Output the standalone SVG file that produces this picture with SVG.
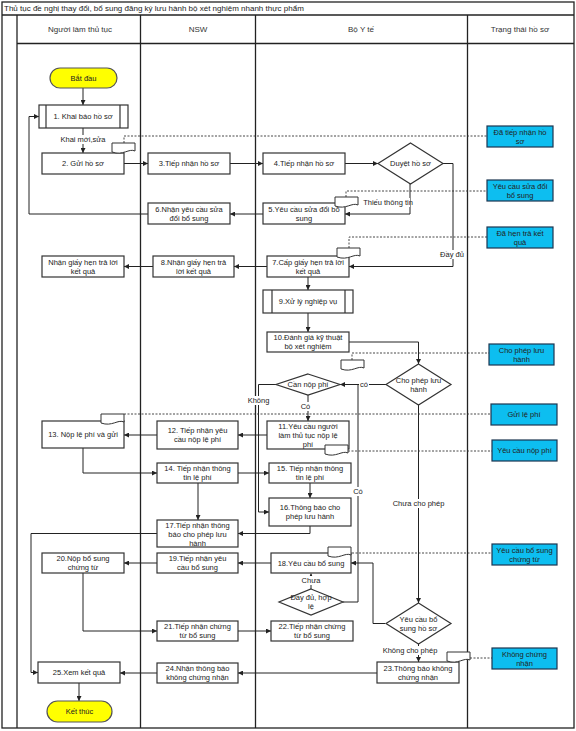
<svg xmlns="http://www.w3.org/2000/svg" width="576" height="731" viewBox="0 0 576 731">
<style>
text{font-family:"Liberation Sans",Arial,sans-serif;font-size:7.5px;fill:#222;text-anchor:middle}
.title{text-anchor:start;font-size:8px}
.hdr{font-size:8px;fill:#333}
.box{fill:#fff;stroke:#333;stroke-width:1.2}
.st{fill:#0DBEF0;stroke:#1b3550;stroke-width:1.2}
.term{fill:#FFFF00;stroke:#555;stroke-width:1.2}
.lane{fill:none;stroke:#222;stroke-width:1.3}
.c{fill:none;stroke:#222;stroke-width:1;marker-end:url(#ah)}
.cn{fill:none;stroke:#222;stroke-width:1}
.d{fill:none;stroke:#333;stroke-width:0.9;stroke-dasharray:2 1.5}
.bg{fill:#fff}
.doc{fill:#fff;stroke:#333;stroke-width:1}
</style>
<defs>
<marker id="ah" viewBox="0 0 6 6" refX="6" refY="3" markerWidth="5" markerHeight="5" orient="auto" markerUnits="userSpaceOnUse"><path d="M0,0 L6,3 L0,6 z" fill="#222"/></marker>
<path id="docshape" d="M0,0 H23 V8 C17,5 11,13 0,9 Z"/>
</defs>
<rect width="576" height="731" fill="#fff"/>
<g id="frame">
<rect x="2" y="2" width="572" height="726" class="lane"/>
<line x1="2" y1="15" x2="574" y2="15" class="lane"/>
<line x1="17" y1="15" x2="17" y2="728" class="lane"/>
<line x1="17" y1="43.5" x2="574" y2="43.5" class="lane"/>
<line x1="140.5" y1="15" x2="140.5" y2="728" class="lane"/>
<line x1="255.5" y1="15" x2="255.5" y2="728" class="lane"/>
<line x1="467.5" y1="15" x2="467.5" y2="728" class="lane"/>
<text x="4" y="11" class="title">Thủ tục đề nghị thay đổi, bổ sung đăng ký lưu hành bộ xét nghiệm nhanh thực phẩm</text>
<text x="80" y="32" class="hdr">Người làm thủ tục</text>
<text x="198" y="32" class="hdr">NSW</text>
<text x="361" y="32" class="hdr">Bộ Y tế</text>
<text x="520" y="32" class="hdr">Trạng thái hồ sơ</text>
</g>
<g id="connectors">
<path class="c" d="M83,88 V105"/>
<path class="c" d="M83,128 V153"/>
<path class="c" d="M124,163.5 H148"/>
<path class="c" d="M230,163.5 H263"/>
<path class="c" d="M345,163.5 H378"/>
<path class="c" d="M443,163.5 H453 V266.5 H349"/>
<path class="c" d="M410,184 V214 H345"/>
<path class="c" d="M263,214 H230"/>
<path class="c" d="M148,214 H29 V116.5 H39"/>
<path class="c" d="M267,266.5 H234"/>
<path class="c" d="M153,266.5 H124"/>
<path class="c" d="M308,277 V290"/>
<path class="c" d="M308,313 V332"/>
<path class="c" d="M349,342 H418.5 V364"/>
<path class="c" d="M386,384.5 H340"/>
<path class="cn" d="M343,602 H358 V384.5"/>
<path class="c" d="M308,395 V421"/>
<path class="c" d="M276,384.5 H258.5 V512 H269"/>
<path class="c" d="M267,435 H238"/>
<path class="c" d="M157,435 H124"/>
<path class="c" d="M83,448 V473 H157"/>
<path class="c" d="M238,473 H269"/>
<path class="c" d="M310,483 V498"/>
<path class="c" d="M198,483 V520"/>
<path class="c" d="M310,526 V533.5 H238"/>
<path class="c" d="M157,533.5 H31 V672.5 H38"/>
<path class="c" d="M418.5,405 V603"/>
<path class="c" d="M385,623.5 H373 V563 H351"/>
<path class="c" d="M311,589 V573.5"/>
<path class="c" d="M271,563 H238"/>
<path class="c" d="M157,563 H124"/>
<path class="c" d="M83,573 V631 H157"/>
<path class="c" d="M238,631 H271"/>
<path class="c" d="M418.5,644 V662"/>
<path class="c" d="M377,673 H238"/>
<path class="c" d="M157,673 H120"/>
<path class="c" d="M79,683 V701"/>
<path class="d" d="M124,143 V136 H487"/>
<path class="d" d="M346,197 V191 H487"/>
<path class="d" d="M349,248 V237 H487"/>
<path class="d" d="M352,360 V353 H489"/>
<path class="d" d="M124,414 H491"/>
<path class="d" d="M348,451 H492"/>
<path class="d" d="M352,553 H492"/>
<path class="d" d="M470,658 H492"/>
<rect class="bg" x="58" y="135" width="50" height="9"/>
<text x="83" y="142">Khai mới,sửa</text>
<rect class="bg" x="365" y="198" width="45" height="9"/>
<text x="388" y="205">Thiếu thông tin</text>
<rect class="bg" x="440" y="250" width="25" height="9"/>
<text x="452" y="257">Đầy đủ</text>
<rect class="bg" x="359" y="380" width="10" height="9"/>
<text x="364" y="387">có</text>
<rect class="bg" x="300" y="402" width="11" height="9"/>
<text x="305.5" y="409">Có</text>
<rect class="bg" x="247" y="396" width="23" height="9"/>
<text x="258.5" y="403">Không</text>
<rect class="bg" x="353" y="487" width="10" height="9"/>
<text x="358" y="494">Có</text>
<rect class="bg" x="393" y="499" width="51" height="9"/>
<text x="418.5" y="506">Chưa cho phép</text>
<rect class="bg" x="301" y="576" width="20" height="9"/>
<text x="311" y="583">Chưa</text>
<rect class="bg" x="383" y="646" width="54" height="9"/>
<text x="410" y="653">Không cho phép</text>
</g>
<g id="n-start"><rect class="term" x="50" y="68" width="67" height="20" rx="10"/><text x="83.5" y="80.5">Bắt đầu</text></g>
<g id="n1"><rect class="box" x="39" y="105" width="89" height="23"/><line x1="46" y1="105" x2="46" y2="128" class="box"/><line x1="120" y1="105" x2="120" y2="128" class="box"/><text x="83" y="119">1. Khai báo hồ sơ</text></g>
<g id="n2"><rect class="box" x="42" y="153" width="82" height="21"/><text x="83" y="166">2. Gửi hồ sơ</text><use href="#docshape" x="112" y="143" class="doc"/></g>
<g id="n3"><rect class="box" x="148" y="153" width="82" height="21"/><text x="189" y="166">3.Tiếp nhận hồ sơ</text></g>
<g id="n4"><rect class="box" x="263" y="153" width="82" height="21"/><text x="304" y="166">4.Tiếp nhận hồ sơ</text></g>
<g id="n-duyet"><path class="box" d="M410.5,143 L443,163.5 L410.5,184 L378,163.5 Z"/><text x="410.5" y="166">Duyệt hồ sơ</text></g>
<g id="n5"><rect class="box" x="263" y="203" width="82" height="21"/><text x="304" y="211.5">5.Yêu cầu sửa đổi bổ</text><text x="304" y="220.5">sung</text><use href="#docshape" x="335" y="197" class="doc"/></g>
<g id="n6"><rect class="box" x="148" y="203" width="82" height="21"/><text x="189" y="211.5">6.Nhận yêu cầu sửa</text><text x="189" y="220.5">đổi bổ sung</text></g>
<g id="n7"><rect class="box" x="267" y="256" width="82" height="21"/><text x="308" y="264.5">7.Cấp giấy hẹn trả lời</text><text x="308" y="273.5">kết quả</text><use href="#docshape" x="337" y="248" class="doc"/></g>
<g id="n8"><rect class="box" x="153" y="256" width="81" height="21"/><text x="193.5" y="264.5">8.Nhận giấy hẹn trả</text><text x="193.5" y="273.5">lời kết quả</text></g>
<g id="n-nhan"><rect class="box" x="42" y="256" width="82" height="21"/><text x="83" y="264.5">Nhận giấy hẹn trả lời</text><text x="83" y="273.5">kết quả</text></g>
<g id="n9"><rect class="box" x="263" y="290" width="90" height="23"/><line x1="272" y1="290" x2="272" y2="313" class="box"/><line x1="345" y1="290" x2="345" y2="313" class="box"/><text x="308" y="304">9.Xử lý nghiệp vụ</text></g>
<g id="n10"><rect class="box" x="267" y="332" width="82" height="20"/><text x="308" y="340">10.Đánh giá kỹ thuật</text><text x="308" y="349">bộ xét nghiệm</text></g>
<g id="n-doc10"><use href="#docshape" x="341" y="360" class="doc"/></g>
<g id="n-chophep"><path class="box" d="M418.5,364 L451,384.5 L418.5,405 L386,384.5 Z"/><text x="418.5" y="382.5">Cho phép lưu</text><text x="418.5" y="391.5">hành</text></g>
<g id="n-cannop"><path class="box" d="M308,374 L340,384.5 L308,395 L276,384.5 Z"/><text x="308" y="387">Cần nộp phí</text></g>
<g id="n11"><rect class="box" x="267" y="421" width="82" height="28"/><text x="308" y="428.5">11.Yêu cầu người</text><text x="308" y="437.5">làm thủ tục nộp lệ</text><text x="308" y="446.5">phí</text><use href="#docshape" x="325" y="445" class="doc"/></g>
<g id="n12"><rect class="box" x="157" y="421" width="81" height="28"/><text x="197.5" y="433">12. Tiếp nhận yêu</text><text x="197.5" y="442">cầu nộp lệ phí</text></g>
<g id="n13"><rect class="box" x="42" y="421" width="82" height="27"/><text x="83" y="437">13. Nộp lệ phí và gửi</text><use href="#docshape" x="101" y="414" class="doc"/></g>
<g id="n14"><rect class="box" x="157" y="463" width="81" height="20"/><text x="197.5" y="471">14. Tiếp nhận thông</text><text x="197.5" y="480">tin lệ phí</text></g>
<g id="n15"><rect class="box" x="269" y="463" width="82" height="20"/><text x="310" y="471">15. Tiếp nhận thông</text><text x="310" y="480">tin lệ phí</text></g>
<g id="n16"><rect class="box" x="269" y="498" width="82" height="28"/><text x="310" y="510">16.Thông báo cho</text><text x="310" y="519">phép lưu hành</text></g>
<g id="n17"><rect class="box" x="157" y="520" width="81" height="27"/><text x="197.5" y="527.5">17.Tiếp nhận thông</text><text x="197.5" y="536.5">báo cho phép lưu</text><text x="197.5" y="545.5">hành</text></g>
<g id="n18"><rect class="box" x="271" y="553" width="80" height="20"/><text x="311" y="565.5">18.Yêu cầu bổ sung</text><use href="#docshape" x="328" y="547" class="doc"/></g>
<g id="n19"><rect class="box" x="157" y="553" width="81" height="20"/><text x="197.5" y="561">19.Tiếp nhận yêu</text><text x="197.5" y="570">cầu bổ sung</text></g>
<g id="n20"><rect class="box" x="42" y="553" width="82" height="20"/><text x="83" y="561">20.Nộp bổ sung</text><text x="83" y="570">chứng từ</text></g>
<g id="n-daydu"><path class="box" d="M311,589 L343,602 L311,615 L279,602 Z"/><text x="311" y="600">Đầy đủ, hợp</text><text x="311" y="609">lệ</text></g>
<g id="n-yeucaubs"><path class="box" d="M418.5,603 L451,623.5 L418.5,644 L386,623.5 Z"/><text x="418.5" y="621.5">Yêu cầu bổ</text><text x="418.5" y="630.5">sung hồ sơ</text></g>
<g id="n21"><rect class="box" x="157" y="621" width="81" height="20"/><text x="197.5" y="629">21.Tiếp nhận chứng</text><text x="197.5" y="638">từ bổ sung</text></g>
<g id="n22"><rect class="box" x="271" y="621" width="82" height="20"/><text x="312" y="629">22.Tiếp nhận chứng</text><text x="312" y="638">từ bổ sung</text></g>
<g id="n23"><rect class="box" x="377" y="662" width="82" height="21"/><text x="418" y="670.5">23.Thông báo không</text><text x="418" y="679.5">chứng nhận</text><use href="#docshape" x="447" y="652" class="doc"/></g>
<g id="n24"><rect class="box" x="157" y="663" width="81" height="20"/><text x="197.5" y="671">24.Nhận thông báo</text><text x="197.5" y="680">không chứng nhận</text></g>
<g id="n25"><rect class="box" x="38" y="662" width="82" height="21"/><text x="79" y="675">25.Xem kết quả</text></g>
<g id="n-end"><rect class="term" x="47" y="701" width="65" height="21" rx="10.5"/><text x="79.5" y="714">Kết thúc</text></g>
<g id="s1"><rect class="st" x="487" y="126" width="66" height="21"/><text x="520" y="134.5">Đã tiếp nhận hồ</text><text x="520" y="143.5">sơ</text></g>
<g id="s2"><rect class="st" x="487" y="180" width="66" height="21"/><text x="520" y="188.5">Yêu cầu sửa đổi</text><text x="520" y="197.5">bổ sung</text></g>
<g id="s3"><rect class="st" x="487" y="227" width="66" height="21"/><text x="520" y="235.5">Đã hẹn trả kết</text><text x="520" y="244.5">quả</text></g>
<g id="s4"><rect class="st" x="489" y="344" width="65" height="21"/><text x="521.5" y="352.5">Cho phép lưu</text><text x="521.5" y="361.5">hành</text></g>
<g id="s5"><rect class="st" x="491" y="404" width="66" height="21"/><text x="524" y="417">Gửi lệ phí</text></g>
<g id="s6"><rect class="st" x="492" y="440" width="65" height="21"/><text x="524.5" y="453">Yêu cầu nộp phí</text></g>
<g id="s7"><rect class="st" x="492" y="544" width="65" height="21"/><text x="524.5" y="552.5">Yêu cầu bổ sung</text><text x="524.5" y="561.5">chứng từ</text></g>
<g id="s8"><rect class="st" x="492" y="648" width="65" height="21"/><text x="524.5" y="656.5">Không chứng</text><text x="524.5" y="665.5">nhận</text></g>
</svg>
